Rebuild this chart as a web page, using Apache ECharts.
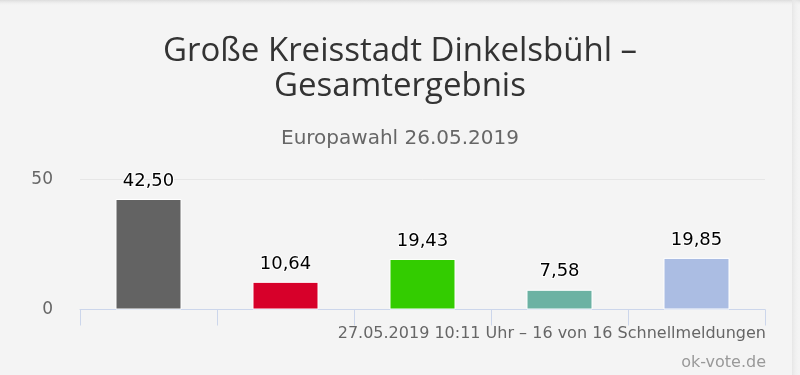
<!DOCTYPE html>
<html>
<head>
<meta charset="utf-8">
<script src="https://cdn.jsdelivr.net/npm/echarts@6/dist/echarts.min.js"></script>
<style>
html,body{margin:0;padding:0;background:#f4f4f4;}
#chart{width:800px;height:375px;}
</style>
</head>
<body>
<div id="chart"></div>
<script>
var categories = ['1', '2', '3', '4', '5'];
var values = [42.50, 10.64, 19.43, 7.58, 19.85];
var barColors = ['#636363', '#d7002a', '#33cc00', '#6cb2a3', '#abbde3'];
var yTicks = [0, 50];
var titleText = 'Große Kreisstadt Dinkelsbühl –\nGesamtergebnis';
var subtitleText = 'Europawahl 26.05.2019';
var footerText = '27.05.2019 10:11 Uhr – 16 von 16 Schnellmeldungen';
var creditText = 'ok-vote.de';

var chart = echarts.init(document.getElementById('chart'), null, {renderer: 'canvas'});
var barData = values.map(function (v, i) {
  return {value: v, itemStyle: {color: barColors[i]}};
});
chart.setOption({
  backgroundColor: '#f4f4f4',
  animation: false,
  graphic: [
    {type: 'rect', shape: {x: 0, y: 0, width: 800, height: 6}, silent: true,
     style: {fill: new echarts.graphic.LinearGradient(0, 0, 0, 1, [{offset: 0, color: '#dcdcdc'}, {offset: 1, color: 'rgba(244,244,244,0)'}])}},
    {type: 'rect', shape: {x: 792, y: 0, width: 8, height: 375}, silent: true,
     style: {fill: new echarts.graphic.LinearGradient(0, 0, 1, 0, [{offset: 0, color: '#e6e6e6'}, {offset: 1, color: 'rgba(244,244,244,0)'}])}}
  ],
  title: [
    {text: titleText, left: 'center', top: 34, padding: 0,
     textStyle: {fontFamily: 'Open Sans', fontSize: 33, fontWeight: 'normal', color: '#333333', lineHeight: 35}},
    {text: subtitleText, left: 'center', top: 129, padding: 0,
     textStyle: {fontFamily: 'DejaVu Sans', fontSize: 20, fontWeight: 'normal', color: '#666666'}},
    {text: footerText, right: 34, top: 326, padding: 0,
     textStyle: {fontFamily: 'DejaVu Sans', fontSize: 16, fontWeight: 'normal', color: '#666666'}},
    {text: creditText, right: 34, top: 355, padding: 0,
     textStyle: {fontFamily: 'DejaVu Sans', fontSize: 16, fontWeight: 'normal', color: '#999999'}}
  ],
  grid: {left: 80, right: 35, top: 179.5, bottom: 65.5, containLabel: false},
  xAxis: {
    type: 'category',
    data: categories,
    boundaryGap: true,
    axisLine: {lineStyle: {color: '#ccd6eb', width: 1}},
    axisTick: {show: true, length: 16, lineStyle: {color: '#ccd6eb'}},
    axisLabel: {show: false}
  },
  yAxis: {
    type: 'value',
    min: yTicks[0],
    max: yTicks[yTicks.length - 1],
    interval: yTicks[1] - yTicks[0],
    axisLine: {show: false},
    axisTick: {show: false},
    splitLine: {lineStyle: {color: '#e6e6e6', width: 1}},
    axisLabel: {fontFamily: 'DejaVu Sans', fontSize: 17, color: '#666666', margin: 27}
  },
  series: [{
    type: 'bar',
    data: barData,
    barWidth: 66,
    itemStyle: {borderColor: '#ffffff', borderWidth: 1},
    label: {
      show: true,
      position: 'top',
      distance: 9,
      fontFamily: 'DejaVu Sans',
      fontSize: 18,
      color: '#000000',
      textBorderColor: '#ffffff',
      textBorderWidth: 2,
      formatter: function (p) { return p.value.toFixed(2).replace('.', ','); }
    }
  }]
});
</script>
</body>
</html>
